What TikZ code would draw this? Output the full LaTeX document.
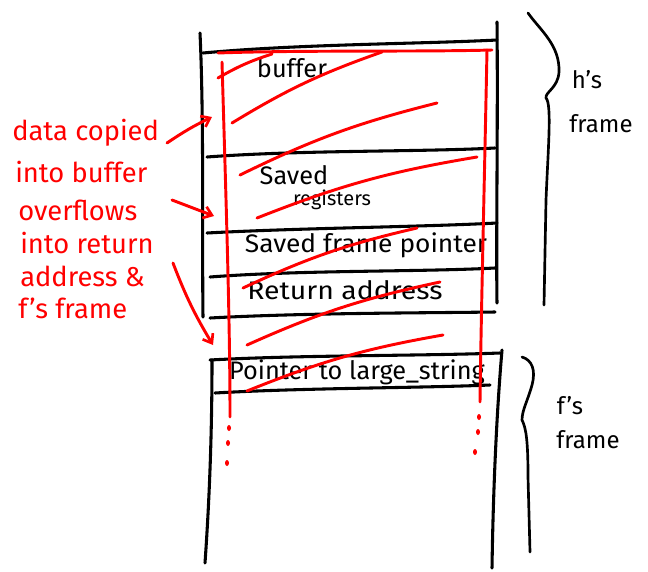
\documentclass[tikz,border=0pt]{standalone}
\usepackage{fontspec}
\setmainfont{Fira Sans}
\usetikzlibrary{arrows.meta,shapes.geometric}
\begin{document}
\begin{tikzpicture}[x=0.75pt,y=-0.75pt,
  blk/.style={black,line width=2.3pt,line cap=round,line join=round},
  redl/.style={red,line width=2.2pt,line cap=round,line join=round},
  redarrow/.style={red,line width=2.2pt,line cap=round,-{Straight Barb[length=6pt,width=9pt,line width=2pt]}},
  redtxt/.style={red,anchor=west,inner sep=0pt,font=\fontsize{20.5}{22}\selectfont},
  btxt/.style={black,inner sep=0pt,font=\fontsize{19}{21}\selectfont},
  dot/.style={red,fill,ellipse,inner sep=0pt,minimum width=3pt,minimum height=4.5pt}]
\useasboundingbox (0,0) rectangle (648,571);

% h's frame box
\draw[blk] (200,33) .. controls (204,120) and (202,240) .. (203,317);
\draw[blk] (497,22) .. controls (498,120) and (496,240) .. (497,303);
\draw[blk] (203,53) .. controls (300,44) and (420,44) .. (497,40);
\draw[blk] (207,157) .. controls (300,150) and (420,152) .. (495,148);
\draw[blk] (207,233) .. controls (300,228) and (420,227) .. (497,223);
\draw[blk] (210,277) .. controls (300,270) and (420,272) .. (495,268);
\draw[blk] (210,318) .. controls (300,313) and (420,313) .. (495,312);

% f's frame box
\draw[blk] (210,360) .. controls (300,355) and (420,356) .. (500,353);
\draw[blk] (212,360) .. controls (212,450) and (208,520) .. (205,563);
\draw[blk] (502,350) .. controls (496,420) and (493,500) .. (492,568);
\draw[blk] (215,393) .. controls (300,388) and (420,388) .. (490,385);

% black labels inside
\node[btxt] (buf) at (292,68) {buffer};
\node[btxt] (sv) at (294,175) {Saved};
\node[btxt,font=\fontsize{15}{17}\selectfont] (reg) at (332,200) {registers};
\node[btxt] (sfp) at (366,245) {\scalebox{1.04}[1]{Saved frame pointer}};
\node[btxt] (ret) at (345,290) {\scalebox{1.12}[1]{Return address}};
\node[btxt] (ptr) at (357,372) {Pointer to large\_string};

% braces
\draw[blk,line width=2pt] (528,13) .. controls (540,30) and (560,45) .. (559,72)
  .. controls (558,88) and (545,92) .. (546,98)
  .. controls (552,104) and (548,150) .. (546,200) -- (544,305);
\draw[blk,line width=2pt] (522,357) .. controls (532,360) and (536,370) .. (532,385)
  .. controls (528,400) and (522,410) .. (522,420)
  .. controls (526,428) and (528,440) .. (528,477) -- (530,552);
\node[btxt,font=\fontsize{18}{20}\selectfont] (hs) at (587,80) {h's};
\node[btxt,font=\fontsize{18}{20}\selectfont] (hf) at (601,124) {frame};
\node[btxt,font=\fontsize{18}{20}\selectfont] (fs) at (570,406) {f's};
\node[btxt,font=\fontsize{18}{20}\selectfont] (ff) at (588,440) {frame};

% red overflow rectangle
\draw[redl] (218,53) .. controls (300,50) and (420,52) .. (492,50);
\draw[redl] (222,62) .. controls (226,200) and (230,320) .. (230,417);
\draw[redl] (487,50) .. controls (484,200) and (481,320) .. (480,402);
\node[dot] (dl1) at (229,428) {};
\node[dot] (dl2) at (228,443) {};
\node[dot] (dl3) at (227,463) {};
\node[dot] (dr1) at (479,417) {};
\node[dot] (dr2) at (478,432) {};
\node[dot] (dr3) at (475,452) {};

% red hatching strokes
\draw[redl] (218,78) to[bend left=6] (272,54);
\draw[redl] (232,123) to[bend left=6] (382,52);
\draw[redl] (240,175) to[bend left=6] (437,103);
\draw[redl] (257,218) to[bend left=6] (477,157);
\draw[redl] (243,288) to[bend left=6] (417,228);
\draw[redl] (247,345) to[bend left=6] (440,282);
\draw[redl] (247,391) to[bend left=6] (443,335);

% red annotation text
\node[redtxt] (t1) at (12,133) {data copied};
\node[redtxt] (t2) at (15,172) {into buffer};
\node[redtxt] (t3) at (18,210) {overflows};
\node[redtxt] (t4) at (20,243) {into return};
\node[redtxt] (t5) at (20,276) {address \&};
\node[redtxt] (t6) at (18,308) {f's frame};

\coordinate (a1s) at (167,143);
\coordinate (a1e) at (212,117);
\coordinate (a2s) at (172,200);
\coordinate (a2e) at (214,216);
\coordinate (a3s) at (173,263);
\coordinate (a3e) at (213,345);
\draw[redarrow] (a1s) to[bend left=4] (a1e);
\draw[redarrow] (a2s) -- (a2e);
\draw[redarrow] (a3s) to[bend right=5] (a3e);
\end{tikzpicture}
\end{document}
